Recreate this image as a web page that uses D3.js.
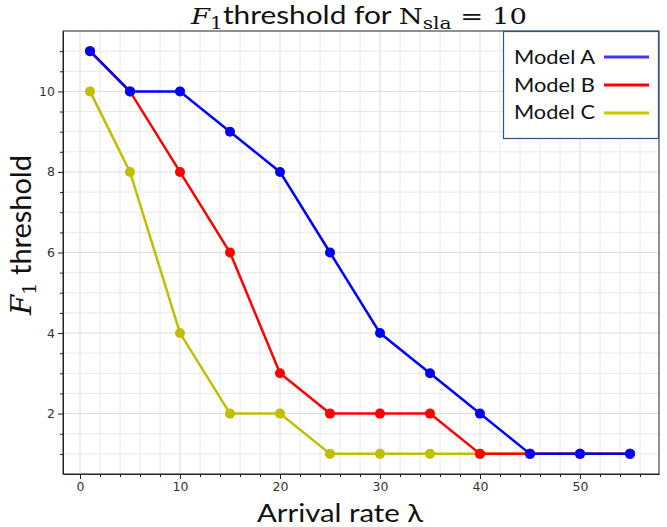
<!DOCTYPE html>
<html>
<head>
<meta charset="UTF-8">
<script src="https://d3js.org/d3.v7.min.js"></script>
<style>
  body { margin: 0; background: #fff; }
  svg { display: block; }
  .tick text { font-family: "DejaVu Sans", sans-serif; font-size: 12.5px; fill: #333; }
  .lbl { font-family: Lato, "Open Sans", sans-serif; fill: #111; }
  .serif { font-family: "DejaVu Serif", "Liberation Serif", serif; }
</style>
</head>
<body>
<svg id="chart"></svg>
<script>
// data
const arrival = [1, 5, 10, 15, 20, 25, 30, 35, 40, 45, 50, 55];
const modelA = [11, 10, 10, 9, 8, 6, 4, 3, 2, 1, 1, 1];
const modelB = [11, 10, 8, 6, 3, 2, 2, 2, 1, 1, 1, 1];
const modelC = [10, 8, 4, 2, 2, 1, 1, 1, 1, 1, 1, 1];
const seriesNames = ["Model A", "Model B", "Model C"];
const xTicks = [0, 10, 20, 30, 40, 50];
const yTicks = [2, 4, 6, 8, 10];

const W = 667, H = 527;
const pLeft = 63, pRight = 659, pTop = 31, pBottom = 474;

const svg = d3.select("#chart").attr("width", W).attr("height", H);

const x = d3.scaleLinear().domain([-1.7, 57.9]).range([pLeft, pRight]);
const y = d3.scaleLinear().domain([0.5, 11.5]).range([pBottom, pTop]);

const xMinor = d3.range(0, 57, 2);
const yMinor = d3.range(1, 11.01, 0.5);

// grid
svg.append("g").selectAll("line").data(xMinor).join("line")
  .attr("x1", d => x(d)).attr("x2", d => x(d))
  .attr("y1", pTop).attr("y2", pBottom)
  .attr("stroke", d => d % 10 === 0 ? "#dcdcdc" : "#e8e8e8").attr("stroke-width", 1);
svg.append("g").selectAll("line").data(yMinor).join("line")
  .attr("y1", d => y(d)).attr("y2", d => y(d))
  .attr("x1", pLeft).attr("x2", pRight)
  .attr("stroke", d => d % 2 === 0 ? "#dcdcdc" : "#e8e8e8").attr("stroke-width", 1);

// axes
svg.append("g").attr("transform", `translate(0,${pBottom})`)
  .call(d3.axisBottom(x).tickValues(xTicks).tickSize(5).tickPadding(3).tickSizeOuter(0));
svg.append("g").attr("transform", `translate(0,${pBottom})`)
  .call(d3.axisBottom(x).tickValues(xMinor.filter(d => d % 10 !== 0)).tickSize(3).tickFormat("").tickSizeOuter(0))
  .select(".domain").remove();
svg.append("g").attr("transform", `translate(${pLeft},0)`)
  .call(d3.axisLeft(y).tickValues(yTicks).tickSize(5).tickPadding(3).tickSizeOuter(0));
svg.append("g").attr("transform", `translate(${pLeft},0)`)
  .call(d3.axisLeft(y).tickValues(yMinor.filter(d => d % 2 !== 0)).tickSize(3).tickFormat("").tickSizeOuter(0))
  .select(".domain").remove();
svg.selectAll(".domain, .tick line").attr("stroke", "#222");

// box spines
svg.append("rect").attr("x", pLeft).attr("y", pTop)
  .attr("width", pRight - pLeft).attr("height", pBottom - pTop)
  .attr("fill", "none").attr("stroke", "#222").attr("stroke-width", 1);

// series
const series = [
  { name: seriesNames[2], vals: modelC, color: "#bfbf00" },
  { name: seriesNames[1], vals: modelB, color: "#ff0000" },
  { name: seriesNames[0], vals: modelA, color: "#0000ff" }
];
const line = d3.line().x(d => x(d[0])).y(d => y(d[1]));
series.forEach(s => {
  const pts = arrival.map((a, i) => [a, s.vals[i]]);
  svg.append("path").datum(pts).attr("d", line)
    .attr("fill", "none").attr("stroke", s.color).attr("stroke-width", 2.5);
  svg.append("g").selectAll("circle").data(pts).join("circle")
    .attr("cx", d => x(d[0])).attr("cy", d => y(d[1])).attr("r", 5)
    .attr("fill", s.color);
});

// title
const title = svg.append("text").attr("x", 191).attr("y", 24).attr("font-size", 23).attr("fill", "#111");
title.append("tspan").attr("class", "serif").attr("font-style", "italic").text("F");
title.append("tspan").attr("class", "serif").attr("font-size", 17).attr("dy", 5).text("1");
title.append("tspan").attr("class", "lbl").attr("font-size", 25).attr("dy", -5).text("threshold for ");
title.append("tspan").attr("class", "serif").text("N");
title.append("tspan").attr("class", "serif").attr("font-size", 17).attr("dy", 5).text("sla");
title.append("tspan").attr("class", "serif").attr("dy", -5).text(" = 10");
const tw = title.node().getComputedTextLength();
title.attr("transform", `translate(191,0) scale(${336 / tw},1) translate(-191,0)`);

// axis labels
svg.append("text").attr("class", "lbl").attr("x", 257).attr("y", 522)
  .attr("font-size", 25).attr("textLength", 166).attr("lengthAdjust", "spacingAndGlyphs")
  .text("Arrival rate λ");

const yl = svg.append("text").attr("class", "lbl")
  .attr("transform", "translate(31,315) rotate(-90)").attr("font-size", 28);
yl.append("tspan").attr("class", "serif").attr("font-style", "italic").text("F");
yl.append("tspan").attr("class", "serif").attr("font-size", 19).attr("dy", 5).text("1");
yl.append("tspan").attr("dy", -5).text(" threshold");
const yw = yl.node().getComputedTextLength();
yl.attr("transform", `translate(31,315) rotate(-90) scale(${160 / yw},1)`);

// legend
const lg = svg.append("g");
lg.append("rect").attr("x", 503.5).attr("y", 31.5).attr("width", 155).attr("height", 107)
  .attr("fill", "#fff").attr("stroke", "#2f528f").attr("stroke-width", 1.2);
const legendColors = ["#4633ff", "#ff0000", "#c8c800"];
seriesNames.forEach((n, i) => {
  lg.append("text").attr("class", "lbl").attr("x", 514).attr("y", 64 + i * 27.5)
    .attr("font-size", 20).attr("textLength", 81).attr("lengthAdjust", "spacingAndGlyphs").text(n);
  lg.append("line").attr("x1", 604).attr("x2", 649)
    .attr("y1", 57 + i * 28).attr("y2", 57 + i * 28)
    .attr("stroke", legendColors[i]).attr("stroke-width", 3);
});
</script>
</body>
</html>
